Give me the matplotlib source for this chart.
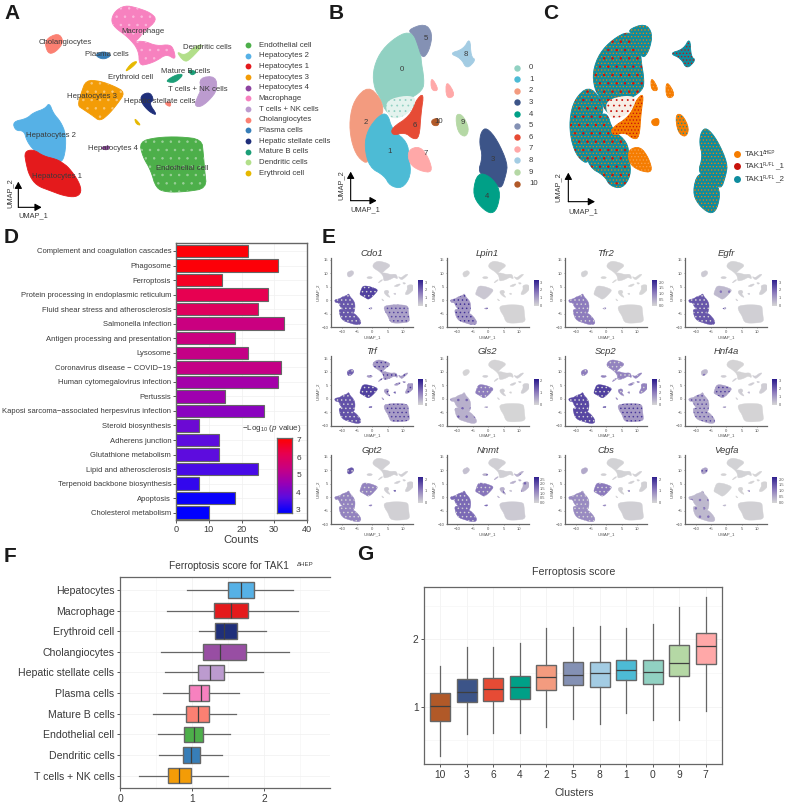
import matplotlib
matplotlib.use("Agg")
import matplotlib.pyplot as plt
import numpy as np
from matplotlib.patches import Polygon
from matplotlib.colors import LinearSegmentedColormap, Normalize

plt.rcParams['font.family'] = ['Liberation Sans', 'DejaVu Sans']
plt.rcParams['mathtext.fontset'] = 'custom'
plt.rcParams['mathtext.rm'] = 'Liberation Sans'
plt.rcParams['mathtext.it'] = 'Liberation Sans:italic'
plt.rcParams['mathtext.default'] = 'regular'
plt.rcParams['hatch.linewidth'] = 0.55
W, H = 787, 809
TXT = '#3a3a3a'

# ---------- atlas outlines (UMAP units are derived below)
A_OUT = {
 'Endothelial cell': [[(418,425),(470,412),(540,410),(605,418),(610,460),(614,510),(620,565),(560,575),(500,577),(468,565),(452,510),(428,470)]],
 'Hepatocytes 2': [[(38,365),(80,356),(100,338),(135,326),(148,308),(160,340),(182,365),(197,400),(197,450),(187,487),(165,482),(130,467),(100,450),(80,422),(72,392),(46,392)]],
 'Hepatocytes 1': [[(73,455),(100,448),(130,468),(170,478),(187,488),(207,503),(237,545),(245,577),(227,592),(190,587),(150,572),(110,557),(88,527),(78,490)]],
 'Hepatocytes 3': [[(258,240),(300,243),(342,258),(376,277),(352,312),(327,342),(300,364),(278,347),(248,327),(233,317),(243,280)]],
 'Hepatocytes 4': [[(298,443),(332,436),(322,452)]],
 'Macrophage': [[(333,60),(345,33),(375,16),(410,23),(452,38),(472,60),(432,95),(412,120),(402,125),(432,123),(470,138),(510,133),(522,150),(527,180),(500,162),(470,182),(445,192),(418,197),(416,150),(385,112),(343,82)]],
 'T cells + NK cells': [[(598,233),(647,228),(652,270),(627,302),(600,322),(583,316),(593,290),(603,270)]],
 'Cholangiocytes': [[(133,120),(175,98),(192,125),(167,157),(143,162)],[(492,310),(512,303),(512,322)]],
 'Plasma cells': [[(283,165),(310,153),(337,165),(310,180)]],
 'Hepatic stellate cells': [[(423,285),(450,276),(462,300),(447,310),(473,347),(448,336),(423,307)]],
 'Mature B cells': [[(498,242),(530,223),(552,223),(527,247),(508,247)],[(563,208),(592,215),(575,228)]],
 'Dendritic cells': [[(528,153),(555,168),(585,138),(612,133),(572,177),(553,187)]],
 'Erythroid cell': [[(373,217),(395,188),(414,183),(397,202)],[(403,353),(424,377),(408,372)]],
}
A_COL = {'Endothelial cell':'#4DAF4A','Hepatocytes 2':'#56B1E6','Hepatocytes 1':'#E41A1C','Hepatocytes 3':'#F39C07',
 'Hepatocytes 4':'#8E44A0','Macrophage':'#F781BF','T cells + NK cells':'#BC9BCF','Cholangiocytes':'#FB8072',
 'Plasma cells':'#377EB8','Hepatic stellate cells':'#1F2F7A','Mature B cells':'#1B9E77','Dendritic cells':'#B2DF8A','Erythroid cell':'#E6B800'}
A_NAMES = list(A_COL)
A_LABELS = [('Cholangiocytes',196,127),('Plasma cells',322,163),('Macrophage',428,95),('Dendritic cells',622,143),
 ('Erythroid cell',393,231),('Mature B cells',558,213),('T cells + NK cells',594,267),('Hepatocytes 3',275,288),
 ('Hepatic stellate cells',480,304),('Hepatocytes 2',153,406),('Hepatocytes 4',338,446),('Endothelial cell',548,504),('Hepatocytes 1',172,530)]

# ---------- cluster outlines
B_OUT = {
 '0': [[(128,215),(148,160),(188,118),(235,93),(272,120),(272,175),(283,240),(278,272),(230,302),(190,347),(165,332),(150,292),(133,265)]],
 '5': [[(232,90),(285,70),(308,100),(298,152),(277,178),(262,130),(252,105)]],
 '2': [[(58,360),(73,298),(115,258),(152,295),(162,340),(132,372),(112,420),(118,495),(83,473),(63,422)]],
 '1': [[(113,390),(145,348),(172,338),(187,390),(232,425),(238,475),(243,527),(217,566),(180,558),(163,527),(118,502),(103,440)]],
 '6': [[(183,385),(240,348),(258,300),(282,278),(273,340),(268,413),(250,418),(225,397),(188,407)]],
 '7': [[(233,450),(270,438),(297,475),(308,518),(270,513),(238,492)],[(303,228),(328,272),(303,272)],[(348,238),(378,287),(348,297)]],
 '8': [[(358,160),(400,148),(420,112),(423,170),(438,180),(410,208),(393,175)]],
 '9': [[(376,343),(397,343),(418,385),(407,413),(383,397)]],
 '10': [[(303,360),(327,353),(327,377),(308,377)]],
 '3': [[(453,395),(470,382),(502,420),(533,490),(528,525),(512,572),(480,530),(443,520),(458,470),(448,430)]],
 '4': [[(443,518),(480,528),(512,570),(502,628),(480,643),(443,612),(428,575)]],
}
B_COL = {'0':'#91D1C2','1':'#4DBBD5','2':'#F39B7F','3':'#3C5488','4':'#00A087','5':'#8491B4','6':'#E64B35','7':'#FFA8A8','8':'#A3CCE3','9':'#B5D8A5','10':'#B15928'}
B_LABELS = [('0',215,207),('1',178,455),('2',107,367),('3',487,477),('4',470,588),('5',287,114),('6',255,375),('7',288,461),('8',407,163),('9',398,366),('10',325,365)]
HOLE = [(170,300),(230,285),(262,295),(240,340),(190,360),(168,335)]

# ---------- bar panel D
PATHWAYS = ['Complement and coagulation cascades','Phagosome','Ferroptosis','Protein processing in endoplasmic reticulum',
 'Fluid shear stress and atherosclerosis','Salmonella infection','Antigen processing and presentation','Lysosome',
 'Coronavirus disease \u2212 COVID\u221219','Human cytomegalovirus infection','Pertussis','Kaposi sarcoma\u2212associated herpesvirus infection',
 'Steroid biosynthesis','Adherens junction','Glutathione metabolism','Lipid and atherosclerosis','Terpenoid backbone biosynthesis','Apoptosis','Cholesterol metabolism']
COUNTS = [22,31,14,28,25,33,18,22,32,31,15,27,7,13,13,25,7,18,10]
LOGP = [7.0,7.0,6.7,6.2,6.0,5.4,5.4,5.3,5.3,4.7,4.6,4.3,3.9,3.7,3.7,3.5,3.3,2.9,2.8]

# ---------- feature plots E: (gene, colourbar ticks, levels hep, hep3, endo, chol, mac, other)
GENES = [('Cdo1',['0','1','2','3'],[.85,1,.35,.1,.06,.05]),('Lpin1',['0','1','2','3'],[.42,.1,.02,.02,.02,.02]),
 ('Tfr2',['0.0','0.5','1.0','1.5','2.0'],[.6,.04,.02,.03,.02,.01]),('Egfr',['0','1','2','3'],[.85,.2,.05,.08,.03,.05]),
 ('Trf',['0','1','2','3','4','5'],[.88,1,.38,.8,.4,.4]),('Gls2',['0','1','2'],[.25,.6,.01,.02,.02,.05]),
 ('Scp2',['0','1','2','3','4'],[.95,1,.4,.6,.55,.55]),('Hnf4a',['0','1','2','3'],[.32,.38,.02,.2,.02,.06]),
 ('Gpt2',['0','1','2'],[.55,.55,.04,.85,.04,.05]),('Nnmt',['0.0','0.5','1.0','1.5','2.0','2.5'],[.72,.65,.08,.15,.05,.25]),
 ('Cbs',['0','1','2'],[.5,.62,.05,.3,.03,.04]),('Vegfa',['0.0','0.5','1.0','1.5','2.0'],[.2,.03,.04,.35,.03,.02])]
GROUP = {'Hepatocytes 1':0,'Hepatocytes 2':0,'Hepatocytes 4':0,'Hepatocytes 3':1,'Endothelial cell':2,'Cholangiocytes':3,'Macrophage':4}

# ---------- box panels
F_CATS = ['Hepatocytes','Macrophage','Erythroid cell','Cholangiocytes','Hepatic stellate cells','Plasma cells','Mature B cells','Endothelial cell','Dendritic cells','T cells + NK cells']
F_LO = [.93,.65,1.10,.57,.62,.60,.46,.52,.54,.27]
F_Q1 = [1.49,1.30,1.32,1.15,1.08,.96,.91,.89,.87,.66]
F_MED = [1.67,1.54,1.44,1.39,1.25,1.12,1.08,1.02,.99,.82]
F_Q3 = [1.86,1.78,1.62,1.74,1.44,1.24,1.24,1.15,1.11,.99]
F_HI = [2.40,2.46,2.02,2.34,1.98,1.65,1.61,1.52,1.42,1.50]
F_COL = ['#56B1E6','#E41A1C','#1F2F7A','#984EA3','#BC9BCF','#F781BF','#FB8072','#4DAF4A','#377EB8','#F39C07']
G_CATS = ['10','3','6','4','2','5','8','1','0','9','7']
G_LO = [.26,.59,.61,.61,.70,.82,.74,.91,.80,.80,.94]
G_Q1 = [.78,1.07,1.09,1.11,1.25,1.32,1.29,1.39,1.33,1.46,1.63]
G_MED = [1.01,1.22,1.26,1.29,1.44,1.47,1.50,1.54,1.52,1.65,1.90]
G_Q3 = [1.21,1.41,1.42,1.46,1.62,1.67,1.67,1.70,1.69,1.92,2.10]
G_HI = [1.60,1.89,1.88,1.95,2.17,2.18,2.20,2.17,2.22,2.48,2.63]

fig = plt.figure(figsize=(W/100, H/100), dpi=100)

def pax(l, t, r, b, **kw):
    return fig.add_axes([l/W, 1-b/H, (r-l)/W, (b-t)/H], **kw)

ov = pax(0, 0, W, H, zorder=10)
ov.set_xlim(0, W); ov.set_ylim(H, 0); ov.axis('off'); ov.patch.set_alpha(0)

def tx(x, y, s, size=5.6, ha='left', va='center', color=TXT, **kw):
    return ov.text(x, y, s, fontsize=size, ha=ha, va=va, color=color, **kw)

for s, x, y in [('A',4,13),('B',329,13),('C',543,13),('D',4,237),('E',322,237),('F',4,556),('G',357,555)]:
    tx(x, y, s, size=15, fontweight='bold', color='#1a1a1a')

def smooth(p, n=2):
    """Chaikin corner cutting: rounds a read outline without adding data."""
    p = np.asarray(p, float)
    for _ in range(n):
        q = np.roll(p, -1, axis=0)
        p = np.c_[0.75*p+0.25*q, 0.25*p+0.75*q].reshape(-1, 2)
    return p

def to_umap(p):
    p = np.asarray(p, float)
    return np.c_[0.04216*p[:,0]-14.0, 15.22-0.04125*p[:,1]]

def umap_arrow(x0, y0, x1, y1, lx, ly1, ux, uy):
    for xy in [(x1, y0), (x0, y1)]:
        ov.annotate('', xy=xy, xytext=(x0, y0), arrowprops=dict(arrowstyle='-|>,head_width=0.22,head_length=0.4', lw=0.8, color='k', shrinkA=0, shrinkB=0))
    tx(ux, uy, 'UMAP_1', size=5.3, ha='center')
    tx(lx, ly1, 'UMAP_2', size=5.3, ha='center', rotation=90)

# ---------- Panel A
axA = pax(0, 0, 330, 225)
axA.set_xlim(*to_umap([(0,0),(990,0)])[:,0]); axA.set_ylim(to_umap([(0,675)])[0,1], to_umap([(0,0)])[0,1]); axA.axis('off')
A_SPECK = {'Endothelial cell':'#9AD098','Hepatocytes 3':'#F9C878','Macrophage':'#FBB8DC'}
for n, polys in A_OUT.items():
    for p in polys:
        s = to_umap(smooth(p))
        axA.add_patch(Polygon(s, fc=A_COL[n], ec=A_COL[n], lw=0.6, joinstyle='round'))
        if n in A_SPECK:
            axA.add_patch(Polygon(s, fc='none', ec=A_SPECK[n], lw=0, hatch='..'))
for n, x, y in A_LABELS:
    tx(x/3, y/3, n, ha='center', size=5.6)
for i, n in enumerate(A_NAMES):
    yy = (135+32*i)/3
    ov.plot([745/3], [yy], 'o', ms=4.2, color=A_COL[n], mew=0)
    tx(776/3, yy, n, size=5.55)
umap_arrow(55/3, 622/3, 125/3, 545/3, 30/3, 578/3, 100/3, 647/3)

# ---------- Panel B
axB = pax(330, 0, 557, 225)
axB.set_xlim(0, 681); axB.set_ylim(675, 0); axB.axis('off')
for n, polys in B_OUT.items():
    for p in polys:
        axB.add_patch(Polygon(smooth(p), fc=B_COL[n], ec=B_COL[n], lw=0.6, joinstyle='round'))
axB.add_patch(Polygon(smooth(HOLE), fc='#E4F3EE', ec='#91D1C2', hatch='...', lw=0))
for n, x, y in B_LABELS:
    tx(330+x/3, y/3, n, ha='center', size=5.6)
for i, n in enumerate(['0','1','2','3','4','5','6','7','8','9','10']):
    yy = (203+34.8*i)/3
    ov.plot([330+562/3], [yy], 'o', ms=4.6, color=B_COL[n], mew=0)
    tx(330+597/3, yy, n, size=5.6)
umap_arrow(330+62/3, 602/3, 330+140/3, 515/3, 330+32/3, 555/3, 330+105/3, 630/3)

# ---------- Panel C
TEAL, ORG, RED = '#0E8C9E', '#F57C00', '#C8130C'
axC = pax(550, 0, 777, 225)
axC.set_xlim(0, 681); axC.set_ylim(675, 0); axC.axis('off')
C_STYLE = {'7':(ORG,'#F5A04A'),'10':(ORG,ORG),'0':(TEAL,ORG),'1':(TEAL,ORG),'2':(TEAL,ORG),'3':(TEAL,ORG),'4':(TEAL,ORG),'5':(TEAL,ORG),'6':(ORG,RED),'8':(TEAL,RED),'9':(ORG,TEAL)}
for n, polys in B_OUT.items():
    base, hc = C_STYLE[n]
    for p in polys:
        s = smooth(p)
        axC.add_patch(Polygon(s, fc=base, ec=base, lw=0.6, joinstyle='round'))
        axC.add_patch(Polygon(s, fc='none', ec=hc, lw=0, hatch='.....'))
        if n in ('0','1','2'):
            axC.add_patch(Polygon(s, fc='none', ec=RED, lw=0, hatch='..'))
s = smooth(HOLE)
axC.add_patch(Polygon(s, fc='#F7EEE6', ec='none', lw=0))
axC.add_patch(Polygon(s, fc='none', ec=RED, hatch='...', lw=0))
for i, (sup, tail, c) in enumerate([('\u0394HEP','',ORG),('FL/FL','_1',RED),('FL/FL','_2',TEAL)]):
    yy = [462,498,537][i]/3
    ov.plot([330+1220/3], [yy], 'o', ms=5, color=c, mew=0)
    tx(330+1243/3, yy, 'TAK1', size=5.8)
    tx(330+1298/3, yy-1.4, sup, size=3.3)
    if tail:
        tx(330+1335/3, yy, tail, size=5.8)
umap_arrow(330+715/3, 605/3, 330+795/3, 518/3, 330+685/3, 560/3, 330+760/3, 635/3)

# ---------- Panel D
axD = pax(176, 243, 307, 520)
cmD = LinearSegmentedColormap.from_list('br', ['#0000FF','#5A0CE0','#9A00B4','#C90081','#E8004F','#FF0000'])
nD = Normalize(2.8, 7.1)
ypos = np.arange(len(PATHWAYS))
axD.barh(ypos, COUNTS, height=0.86, color=cmD(nD(np.array(LOGP))), edgecolor='#666666', lw=0.8, zorder=3)
axD.set_yticks(ypos, PATHWAYS, fontsize=5.52, color=TXT)
axD.set_ylim(len(PATHWAYS)-0.5, -0.55)
axD.set_xlim(0, 40); axD.set_xticks([0,10,20,30,40])
axD.tick_params(axis='x', labelsize=6.6, length=2, width=.6, pad=1.5, colors=TXT)
axD.tick_params(axis='y', length=2, width=.6, pad=1.5, colors=TXT)
axD.set_xlabel('Counts', fontsize=8, color=TXT, labelpad=1)
axD.grid(color='#F0F0F0', lw=.5, zorder=0); axD.set_axisbelow(True)
for s in axD.spines.values():
    s.set_color('#666666'); s.set_linewidth(1)
axCb = pax(277, 438, 292, 513, zorder=5)
axCb.imshow(np.linspace(7.1, 2.8, 100)[:,None], cmap=cmD, norm=nD, aspect='auto', extent=[0,1,2.8,7.1])
axCb.set_xticks([]); axCb.yaxis.tick_right()
axCb.set_yticks([3,4,5,6,7]); axCb.tick_params(axis='y', length=0, labelsize=6, pad=3, colors=TXT)
for s in axCb.spines.values():
    s.set_color('#666666'); s.set_linewidth(.9)
tx(301, 428, '\u2212Log$_{10}$ ($\\mathit{p}$ value)', size=5.8, ha='right')

# ---------- Panel E
cmE = LinearSegmentedColormap.from_list('pu', ['#D6D6D6', '#8A78BC', '#2A1A8C'])
XL = [331, 446.7, 565, 685]
YB = [327.3, 426, 524.3]
for i, (g, tl, lv) in enumerate(GENES):
    r, c = i//4, i%4
    l, b = XL[c], YB[r]
    ax = pax(l, b-69.6, l+82, b)
    ax.set_xlim(-13.5, 13.2); ax.set_ylim(-10.1, 15.8)
    for n, polys in A_OUT.items():
        lev = lv[GROUP.get(n, 5)]
        for p in polys:
            pts = to_umap(smooth(p))
            ax.add_patch(Polygon(pts, fc=cmE(lev*0.8), ec=cmE(lev*0.8), lw=.3))
            if lev >= .15:
                ax.add_patch(Polygon(pts, fc='none', ec=cmE(min(1, lev*1.5+.25)), lw=0, hatch='....' if lev > .3 else '..'))
    ax.set_xticks([-10,-5,0,5,10]); ax.set_yticks([-10,-5,0,5,10,15])
    ax.set_xticklabels(['\u221210','\u22125','0','5','10']); ax.set_yticklabels(['\u221210','\u22125','0','5','10','15'])
    ax.tick_params(labelsize=3, length=1, width=.4, pad=.8, colors='#555555')
    ax.set_xlabel('UMAP_1', fontsize=3.2, color='#555555', labelpad=1)
    ax.set_ylabel('UMAP_2', fontsize=3.2, color='#555555', labelpad=1)
    ax.set_title(g, fontsize=6.8, style='italic', color=TXT, pad=1.5)
    ax.spines[['top','right']].set_visible(False)
    ax.spines[['left','bottom']].set_color('#666666'); ax.spines[['left','bottom']].set_linewidth(.9)
    cb = pax(l+87, b-47, l+92, b-21)
    cb.imshow(np.linspace(1, 0, 64)[:,None], cmap=cmE, aspect='auto', extent=[0,1,0,1])
    cb.set_xticks([]); cb.yaxis.tick_right()
    cb.set_yticks(np.linspace(0.03, .93, len(tl)), tl)
    cb.tick_params(axis='y', length=0, labelsize=2.9, pad=1, colors='#555555')
    for s in cb.spines.values():
        s.set_visible(False)

# ---------- Panels F, G
def boxes(ax, lo, q1, med, q3, hi, cols, vert):
    stats = [dict(med=m, q1=a, q3=b, whislo=w, whishi=h, fliers=[]) for w, a, m, b, h in zip(lo, q1, med, q3, hi)]
    art = ax.bxp(stats, positions=np.arange(len(stats)), widths=.75, orientation='vertical' if vert else 'horizontal',
                 patch_artist=True, showcaps=False, showfliers=False,
                 medianprops=dict(color='#3f3f3f', lw=.9), whiskerprops=dict(color='#666666', lw=.9),
                 boxprops=dict(edgecolor='#666666', lw=1), zorder=3)
    for b, c in zip(art['boxes'], cols):
        b.set_facecolor(c)

axF = pax(120, 577.3, 330, 788.3)
boxes(axF, F_LO, F_Q1, F_MED, F_Q3, F_HI, F_COL, False)
axF.set_yticks(np.arange(10), F_CATS, fontsize=7.6, color=TXT)
axF.set_ylim(9.61, -0.61); axF.set_xlim(0, 2.91); axF.set_xticks([0,1,2], ['0','1','2'])
axF.tick_params(axis='x', labelsize=7.4, length=2.5, width=.6, pad=1.5, colors=TXT)
axF.tick_params(axis='y', length=2.5, width=.6, pad=1.5, colors=TXT)
axF.set_xticks([.5,1.5,2.5], minor=True); axF.tick_params(axis='x', which='minor', length=0)
axF.grid(color='#F0F0F0', lw=.5, zorder=0); axF.grid(which='minor', axis='x', color='#F4F4F4', lw=.4); axF.set_axisbelow(True)
for s in axF.spines.values():
    s.set_color('#666666'); s.set_linewidth(.9)
axF.spines['right'].set_visible(False)
tx(169, 566, 'Ferroptosis score for TAK1', size=7.3)
tx(297, 564, '\u0394HEP', size=4.4)

axG = pax(424.3, 587.3, 721.7, 764.3)
boxes(axG, G_LO, G_Q1, G_MED, G_Q3, G_HI, [B_COL[c] for c in G_CATS], True)
axG.set_xticks(np.arange(11), G_CATS)
axG.set_xlim(-.6, 10.6); axG.set_ylim(.144, 2.772); axG.set_yticks([1,2], ['1','2'])
axG.tick_params(labelsize=7.4, length=2.5, width=.6, pad=1.5, colors=TXT)
axG.set_yticks([.5,1.5,2.5], minor=True); axG.tick_params(axis='y', which='minor', length=0)
axG.grid(color='#F0F0F0', lw=.5, zorder=0); axG.grid(which='minor', axis='y', color='#F4F4F4', lw=.4); axG.set_axisbelow(True)
for s in axG.spines.values():
    s.set_color('#666666'); s.set_linewidth(.9)
tx(574, 572, 'Ferroptosis score', size=7.7, ha='center')
tx(574, 793, 'Clusters', size=7.7, ha='center')

fig.savefig('out.png', dpi=100)
